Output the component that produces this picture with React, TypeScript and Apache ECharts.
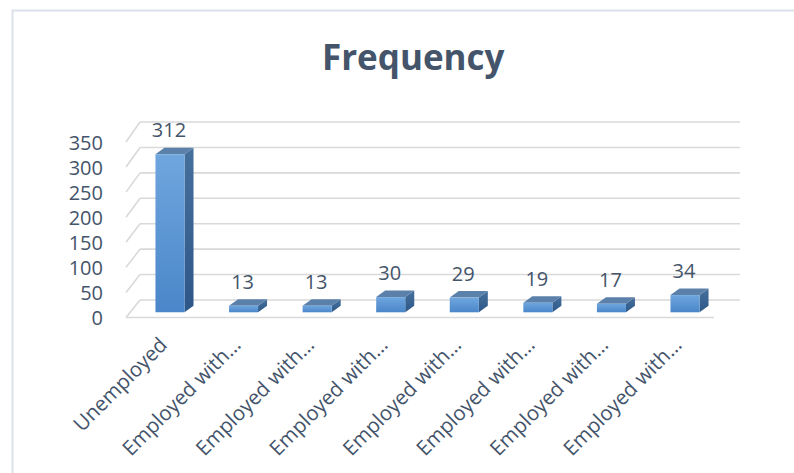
import React, { useEffect, useRef } from "react";
import * as echarts from "echarts";

const categories = [
  "Unemployed",
  "Employed with…",
  "Employed with…",
  "Employed with…",
  "Employed with…",
  "Employed with…",
  "Employed with…",
  "Employed with…",
];
const frequency = [312, 13, 13, 30, 29, 19, 17, 34];
const yTicks = [0, 50, 100, 150, 200, 250, 300, 350];

const TEXT = "#44546A";
const GRID = "#D9D9D9";
const FONT = "Open Sans";

// front plane -> back wall projection
const DX = 14;
const DY = -17.5;
const SX = 600 / 588;
const SY = 178 / 175.5;

function wallRender(params: any, api: any) {
  const cs = params.coordSys;
  const v = api.value(1);
  const fy = api.coord([0, v])[1];
  const x0 = cs.x;
  const y0 = cs.y + cs.height;
  const toBack = (x: number, y: number) => [
    x + DX + (x - x0) * (SX - 1),
    y + DY - (y0 - y) * (SY - 1),
  ];
  const bl = toBack(x0, fy);
  const br = toBack(cs.x + cs.width, fy);
  const style = { stroke: GRID, lineWidth: 1.6, fill: "none" };
  const children: any[] = [
    { type: "line", shape: { x1: bl[0], y1: bl[1], x2: br[0], y2: br[1] }, style },
    { type: "line", shape: { x1: x0, y1: fy, x2: bl[0], y2: bl[1] }, style },
  ];
  if (v === 0) {
    children.push({
      type: "line",
      shape: { x1: x0, y1: y0, x2: x0 + cs.width, y2: y0 },
      style,
    });
  }
  return { type: "group", children };
}

function barRender(params: any, api: any) {
  const i = api.value(0);
  const v = api.value(1);
  const b = api.coord([i, 0]);
  const t = api.coord([i, v]);
  const w = api.size([1, 0])[0] * 0.395;
  const xl = b[0] - w / 2;
  const xr = b[0] + w / 2;
  const yb = b[1];
  const yt = t[1];
  const dx = 9;
  const dy = -6.5;
  return {
    type: "group",
    children: [
      {
        type: "polygon",
        shape: { points: [[xr, yt], [xr + dx, yt + dy], [xr + dx, yb + dy], [xr, yb]] },
        style: {
          fill: new echarts.graphic.LinearGradient(0, 0, 0, 1, [
            { offset: 0, color: "#46709C" },
            { offset: 1, color: "#2D5787" },
          ]),
        },
      },
      {
        type: "polygon",
        shape: { points: [[xl, yt], [xl + dx, yt + dy], [xr + dx, yt + dy], [xr, yt]] },
        style: { fill: "#5B80AA" },
      },
      {
        type: "rect",
        shape: { x: xl, y: yt, width: w, height: yb - yt },
        style: {
          fill: new echarts.graphic.LinearGradient(0, 0, 0, 1, [
            { offset: 0, color: "#6FA6DE" },
            { offset: 1, color: "#4A86C9" },
          ]),
        },
      },
      {
        type: "text",
        style: {
          text: String(v),
          x: b[0] - 1,
          y: yt + dy - 8,
          textAlign: "center",
          textVerticalAlign: "bottom",
          fontSize: 20,
          fontFamily: FONT,
          fill: TEXT,
        },
      },
    ],
  };
}

export default function App() {
  const ref = useRef<HTMLDivElement>(null);
  useEffect(() => {
    if (!ref.current) return;
    const chart = echarts.init(ref.current, undefined, { renderer: "svg" });
    chart.setOption({
      animation: false,
      backgroundColor: "#FFFFFF",
      textStyle: { fontFamily: FONT },
      title: {
        text: "Frequency",
        left: 322,
        top: 39,
        padding: 0,
        textStyle: { fontSize: 35, fontWeight: "bold", color: TEXT, fontFamily: FONT },
      },
      graphic: [
        {
          type: "rect",
          z: -10,
          silent: true,
          shape: { x: 12.5, y: 10.5, width: 800, height: 500 },
          style: { fill: "none", stroke: "#DCE1E9", lineWidth: 2 },
        },
      ],
      grid: [
        { left: 126, right: 80, top: 142, bottom: 155.5 },
        { left: 133.2, right: 72.2, top: 135.1, bottom: 160.7 },
      ],
      xAxis: [
        {
          gridIndex: 0,
          type: "category",
          data: categories,
          axisLine: { show: false },
          axisTick: { show: false },
          axisLabel: {
            rotate: 45,
            interval: 0,
            margin: 23,
            fontSize: 20.5,
            color: TEXT,
            fontFamily: FONT,
          },
        },
        {
          gridIndex: 1,
          type: "category",
          data: categories,
          show: false,
        },
      ],
      yAxis: [
        {
          gridIndex: 0,
          type: "value",
          min: 0,
          max: 350,
          interval: 50,
          axisLine: { show: false },
          axisTick: { show: false },
          splitLine: { show: false },
          axisLabel: { margin: 23, fontSize: 20, color: TEXT, fontFamily: FONT },
        },
        { gridIndex: 1, type: "value", min: 0, max: 350, show: false },
      ],
      series: [
        {
          type: "custom",
          xAxisIndex: 0,
          yAxisIndex: 0,
          silent: true,
          z: 1,
          data: yTicks.map((v) => [0, v]),
          renderItem: wallRender,
        },
        {
          type: "custom",
          xAxisIndex: 1,
          yAxisIndex: 1,
          z: 2,
          data: frequency.map((v, i) => [i, v]),
          renderItem: barRender,
        },
      ],
    });
    return () => chart.dispose();
  }, []);
  return (
    <div
      ref={ref}
      style={{ position: "absolute", left: 0, top: 0, width: 794, height: 473 }}
    />
  );
}
